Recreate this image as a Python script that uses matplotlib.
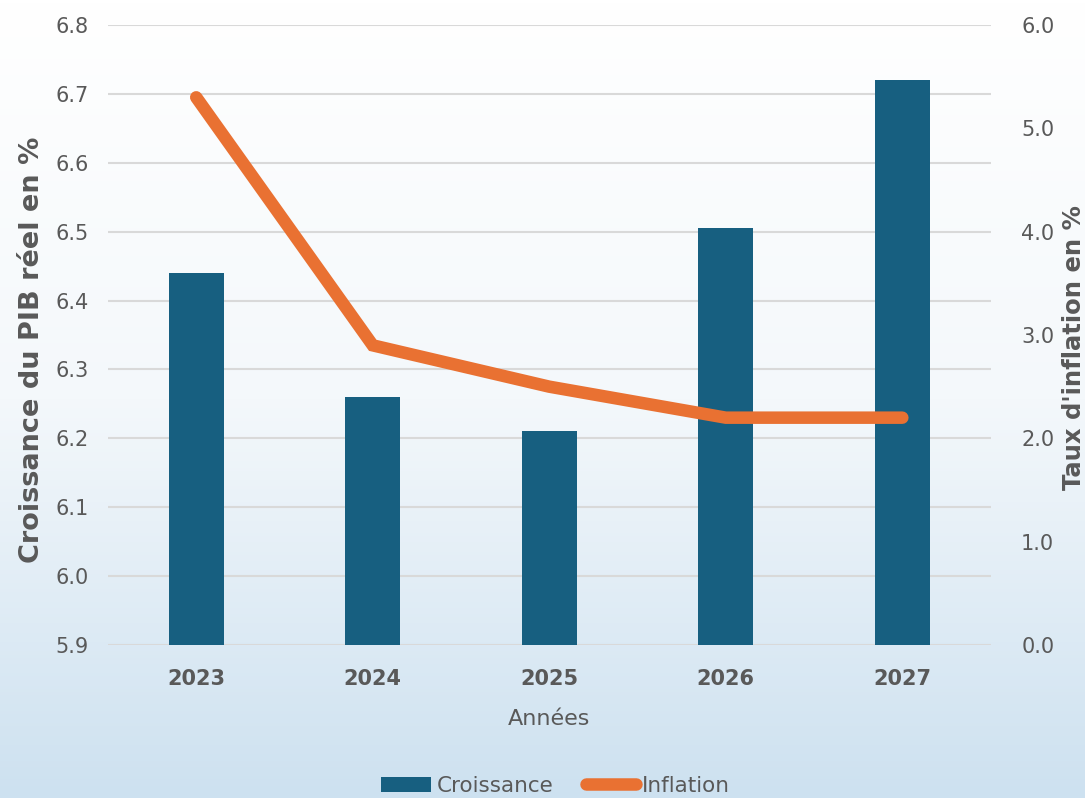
import numpy as np
import matplotlib
matplotlib.use('Agg')
import matplotlib.pyplot as plt
from matplotlib.colors import LinearSegmentedColormap
from matplotlib.lines import Line2D
from matplotlib.patches import Patch

years = ['2023', '2024', '2025', '2026', '2027']
croissance = [6.44, 6.26, 6.21, 6.505, 6.72]
inflation = [5.3, 2.9, 2.5, 2.2, 2.2]

BAR_COLOR = '#175F80'
LINE_COLOR = '#E97132'
TEXT_COLOR = '#595959'
GRID_COLOR = '#D9D9D9'

plt.rcParams['font.family'] = ['DejaVu Sans']

fig = plt.figure(figsize=(10.85, 7.98), dpi=100)

# background gradient, white at top to pale blue at bottom
bg = fig.add_axes([0, 0, 1, 1], zorder=-10)
cmap = LinearSegmentedColormap.from_list('bg', ['#FFFFFF', '#F4F8FB', '#CDE1F0'])
grad = np.linspace(0, 1, 256).reshape(-1, 1)
bg.imshow(grad, aspect='auto', cmap=cmap, extent=[0, 1, 0, 1], origin='upper')
bg.axis('off')

ax = fig.add_axes([0.0995, 0.1917, 0.8135, 0.777])
ax.patch.set_alpha(0)
x = np.arange(len(years))
ax.bar(x, croissance, width=0.31, color=BAR_COLOR, zorder=3)
ax.set_ylim(5.9, 6.8)
ax.set_yticks(np.arange(5.9, 6.81, 0.1))
ax.set_yticklabels(['%.1f' % v for v in np.arange(5.9, 6.81, 0.1)])
ax.set_xlim(-0.5, len(years) - 0.5)
ax.set_xticks(x)
ax.set_xticklabels(years, fontweight='bold', fontsize=16)
ax.grid(axis='y', color=GRID_COLOR, linewidth=1.5, zorder=0)
ax.set_axisbelow(True)
for s in ax.spines.values():
    s.set_visible(False)
ax.tick_params(axis='both', length=0, colors=TEXT_COLOR, labelsize=15)
ax.tick_params(axis='x', pad=17)
ax.tick_params(axis='y', pad=14)
ax.set_xlabel('Années', fontsize=16, color=TEXT_COLOR, labelpad=15)
ax.set_ylabel('Croissance du PIB réel en %', fontsize=19.5, fontweight='bold',
              color=TEXT_COLOR)
ax.yaxis.set_label_coords(-0.0713, 0.476)

ax2 = ax.twinx()
ax2.plot(x, inflation, color=LINE_COLOR, linewidth=9,
         solid_capstyle='round', solid_joinstyle='miter', zorder=4)
ax2.set_ylim(0, 6)
ax2.set_yticks(np.arange(0, 6.1, 1.0))
ax2.set_yticklabels(['%.1f' % v for v in np.arange(0, 6.1, 1.0)])
for s in ax2.spines.values():
    s.set_visible(False)
ax2.tick_params(axis='y', length=0, colors=TEXT_COLOR, labelsize=15, pad=22)
ax2.set_ylabel("Taux d'inflation en %", fontsize=17.5, fontweight='bold',
               color=TEXT_COLOR)
ax2.yaxis.set_label_coords(1.081, 0.48)

handles = [Patch(facecolor=BAR_COLOR, label='Croissance'),
           Line2D([0], [0], color=LINE_COLOR, linewidth=9,
                  solid_capstyle='round', label='Inflation')]
leg = fig.legend(handles=handles, loc='center', bbox_to_anchor=(0.512, 1 - 786 / 798),
                 ncol=2, frameon=False, fontsize=15.5, handlelength=2.3,
                 columnspacing=1.5, handletextpad=0.3)
for t in leg.get_texts():
    t.set_color(TEXT_COLOR)

fig.savefig('out.png', dpi=100)
